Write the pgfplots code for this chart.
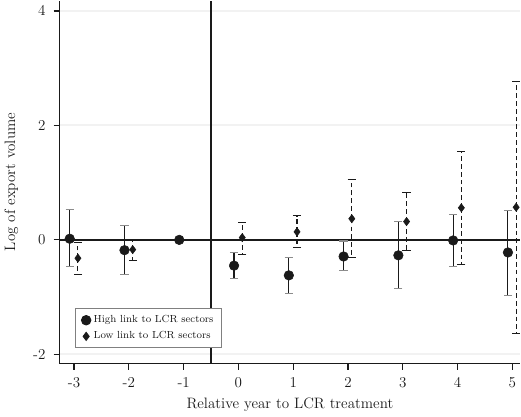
\documentclass[border=0pt]{standalone}
\usepackage{pgfplots}
\usepackage{pgfplotstable}
\pgfplotsset{compat=1.18}

% x, point estimate, lower and upper bound of the CI
\pgfplotstableread{
x      y      lo     hi
-3.08  0.02  -0.47   0.53
-2.08 -0.18  -0.61   0.25
-1.08  0.00   0.00   0.00
-0.08 -0.45  -0.67  -0.22
 0.92 -0.62  -0.94  -0.30
 1.92 -0.29  -0.54  -0.02
 2.92 -0.27  -0.85   0.32
 3.92 -0.01  -0.47   0.45
 4.92 -0.22  -0.97   0.51
}\high

\pgfplotstableread{
x      y      lo     hi
-2.93 -0.32  -0.61  -0.05
-1.93 -0.17  -0.36  -0.01
 0.07  0.04  -0.25   0.31
 1.07  0.14  -0.14   0.42
 2.07  0.37  -0.31   1.06
 3.07  0.32  -0.19   0.83
 4.07  0.56  -0.43   1.55
 5.07  0.57  -1.63   2.77
}\low

\definecolor{gridgray}{HTML}{F2F2F2}
\definecolor{ink}{HTML}{1A1A1A}

\begin{document}
\begin{tikzpicture}
\begin{axis}[
    scale only axis,
    width=336pt, height=265pt,
    xmin=-3.26, xmax=5.14,
    ymin=-2.16, ymax=4.18,
    axis x line*=bottom, axis y line*=left,
    axis line style={-, ink, line width=0.9pt},
    xtick={-3,...,5}, ytick={-2,0,2,4},
    tick align=outside, major tick length=4.5pt,
    tick style={ink, line width=0.9pt},
    ymajorgrids,
    grid style={gridgray, line width=1.5pt},
    /pgf/number format/assume math mode=true,
    tick label style={font=\fontsize{11}{13}\selectfont, text=ink},
    yticklabel style={xshift=-2.5pt},
    xticklabel style={yshift=-2pt},
    label style={font=\fontsize{11}{13}\selectfont, text=ink},
    xlabel={Relative year to LCR treatment},
    ylabel={Log of export volume},
    ylabel shift=4pt,
    xlabel shift=1pt,
    legend style={at={(0.034,0.042)}, anchor=south west,
        draw=black!50, fill=white, line width=0.6pt,
        font=\fontsize{7.5}{9}\selectfont, text=ink,
        cells={anchor=west}, row sep=1pt, inner xsep=4pt, inner ysep=3pt},
]
\addplot[ink, line width=1.5pt, forget plot] coordinates {(-3.26,0) (5.14,0)};
\addplot[ink, line width=1.2pt, forget plot] coordinates {(-0.5,-2.16) (-0.5,4.18)};

\addplot[only marks, mark=*, mark size=3.5pt, ink,
    error bars/.cd, y dir=both, y explicit,
    error bar style={ink, line width=0.8pt},
    error mark options={black!45, line width=0.8pt, mark size=3pt, rotate=90}]
    table[x=x, y=y, y error plus expr=\thisrow{hi}-\thisrow{y},
          y error minus expr=\thisrow{y}-\thisrow{lo}] {\high};
\addlegendentry{High link to LCR sectors}

\addplot[only marks, mark=diamond*, mark size=3pt, ink,
    error bars/.cd, y dir=both, y explicit,
    error bar style={ink, line width=0.8pt, dash pattern=on 3.5pt off 2.2pt},
    error mark options={ink, solid, line width=0.8pt, mark size=3pt, rotate=90}]
    table[x=x, y=y, y error plus expr=\thisrow{hi}-\thisrow{y},
          y error minus expr=\thisrow{y}-\thisrow{lo}] {\low};
\addlegendentry{Low link to LCR sectors}
\end{axis}
\end{tikzpicture}
\end{document}
